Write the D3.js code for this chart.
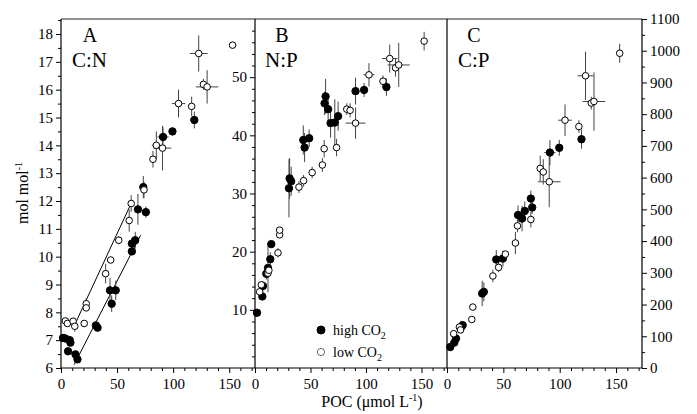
<!DOCTYPE html>
<html><head><meta charset="utf-8">
<script src="https://cdn.jsdelivr.net/npm/d3@7"></script>
<style>body{margin:0;background:#fff}svg{display:block}</style>
</head><body><svg id="c" width="697" height="414"></svg>
<script>
// ---- tick labels ----
const pocTicks = [0, 50, 100, 150];
const cnTicks = [6, 7, 8, 9, 10, 11, 12, 13, 14, 15, 16, 17, 18];
const npTicks = [10, 20, 30, 40, 50];
const cpTicks = [0, 100, 200, 300, 400, 500, 600, 700, 800, 900, 1000, 1100];

// ---- data: [POC, ratio, POC error, ratio error] ----
const cnHigh = [[1.8,7.08,0,0.1],[3.9,7.06,0,0.1],[7.8,7.0,0,0.1],[8.4,6.91,0,0.1],[6.3,6.6,0,0.05],[12.9,6.49,0,0.15],[14.7,6.31,0,0.1],[31.1,7.53,0,0.15],[32.6,7.45,0,0.1],[43.7,8.79,0,0.45],[48.8,8.79,0,0.35],[45.2,8.31,0,0.3],[63.2,10.19,0,0.15],[63.2,10.47,0,0.2],[66.2,10.59,0,0.3],[68.6,11.70,0,0.55],[75.7,11.6,0,0.2],[73.4,12.5,0,0.4],[91,14.3,5,0.35],[99.4,14.5,0,0.15],[118.9,14.91,0,0.3]];
const cnLow = [[3.9,7.69,0,0.05],[5.7,7.6,0,0.05],[10.8,7.68,0,0.05],[12.3,7.5,0,0.2],[20.7,7.6,0,0.1],[22.5,8.31,0,0.2],[22.5,8.16,0,0.1],[39.8,9.39,0,0.35],[44.3,9.88,0,0.1],[51.5,10.59,0,0.15],[60.8,11.3,0,0.4],[62.6,11.91,0,0.3],[74,12.4,0,0.3],[82,13.5,0,0.3],[85,14.0,4,0.5],[90.5,13.9,8,0.8],[104.8,15.5,6,0.5],[116.5,15.4,0,0.35],[122.8,17.3,8,0.65],[127,16.19,0,0.2],[130.3,16.1,10,0.6],[153,17.6,0,0]];
const cnFitHigh = [[11.7,6.12],[71,10.77]];
const cnFitLow = [[10.8,7.43],[63.8,12.02]];

const npHigh = [[1.8,9.5,0,0.3],[6.6,12.3,0,0.5],[7.2,14.1,0,0.8],[10.2,16.2,0,1],[11.7,17.2,0,4.2],[13.8,18.7,0,1.2],[14.7,21.3,0,0.6],[31.2,32.6,0,3.5],[32.6,32.1,0,2.5],[30.6,30.9,0,5],[43.5,39.2,0,2.5],[48.8,39.5,0,1.5],[44.7,37.9,0,2.5],[62.7,45.5,0,2],[63.6,46.7,0,3],[65.9,44.5,0,2.5],[68.1,42.1,0,2.5],[71.9,42.2,0,4],[74.9,43.3,0,2.5],[90.6,47.6,0,2.3],[98.3,47.8,0,1.2],[118.4,48.3,0,1.5]];
const npLow = [[4.2,13.1,0,0.5],[5.7,14.3,0,0.5],[11.7,16.3,0,0.8],[12.5,16.8,0,0.6],[20.7,19.8,0,0.8],[22.2,22.9,0,0.5],[22.2,23.7,0,0.5],[39.6,31.1,0,1],[43.8,32.2,0,1],[51.5,33.6,0,1],[60.7,34.9,3,1.2],[62.3,37.7,0,1.5],[73.5,37.9,0,1.5],[82.7,44.5,0,1],[85.7,44.3,0,1.2],[90.6,42.1,9,2.7],[102.7,50.4,5,2],[115.3,49.3,0,1],[121.4,53.2,7,2.4],[126.6,51.6,0,1.5],[129.5,52.1,10,3.8],[152.4,56.2,0,1.6]];

const cpHigh = [[2.9,66,0,8],[6.5,80,0,10],[8,93,0,15],[12.5,129,0,20],[13.9,135,0,10],[31.2,235,0,40],[32.7,240,0,30],[43.7,342,0,30],[49.6,345,0,25],[63,482,0,30],[66.6,471,0,40],[69,495,0,30],[74.4,534,0,25],[75.6,506,0,20],[91.3,679,5,40],[99.6,694,0,25],[119.3,721,0,30]];
const cpLow = [[5.9,108,0,10],[11,129,0,10],[12,120,0,8],[22,153,0,8],[22.9,192,0,10],[40.7,290,0,20],[45.8,317,0,15],[51.8,359,0,10],[60.7,394,3,35],[62.5,448,0,20],[74.4,468,0,25],[82.7,629,0,40],[85.4,618,0,40],[90.7,587,10,80],[104.7,781,6,50],[117,761,0,20],[122.9,921,7,76],[128,835,0,20],[130.4,840,10,92],[153.2,992,0,30]];

// ---- layout ----
const svg = d3.select('#c');
const FONT = '"Liberation Serif", "Times New Roman", serif';
const TOP = 19, BOT = 368;
const bounds = [[61, 255], [255, 447], [447, 642]];
const xs = bounds.map(b => d3.scaleLinear([0, 173], b));
const yA = d3.scaleLinear([6, 18], [BOT, 34]);
const yB = d3.scaleLinear([0, 60], [BOT, TOP]);
const yC = d3.scaleLinear([0, 1100], [BOT, TOP]);
const fmt = d3.format('d');

function styleAxis(g) {
  g.attr('font-family', FONT);
  g.selectAll('text').attr('font-family', FONT).attr('font-size', 15).attr('fill', '#000');
  g.selectAll('line').attr('stroke', '#000');
  g.select('.domain').remove();
}
function vline(x, y1, y2) {
  svg.append('line').attr('x1', x).attr('x2', x).attr('y1', y1).attr('y2', y2).attr('stroke', '#000').attr('stroke-width', 1.2);
}

// frame
svg.append('line').attr('x1', 61).attr('x2', 642).attr('y1', TOP).attr('y2', TOP).attr('stroke', '#222').attr('stroke-width', 1);
svg.append('line').attr('x1', 61).attr('x2', 642).attr('y1', BOT).attr('y2', BOT).attr('stroke', '#000').attr('stroke-width', 1.2);
[61, 255, 447, 642].forEach(x => vline(x, TOP, BOT));

// bottom axes
xs.forEach(x => {
  svg.append('g').attr('transform', `translate(0,${BOT})`)
    .call(d3.axisBottom(x).tickValues(pocTicks).tickFormat(fmt).tickSize(5).tickSizeOuter(0).tickPadding(5)).call(styleAxis);
  svg.append('g').attr('transform', `translate(0,${BOT})`)
    .call(d3.axisBottom(x).tickValues(d3.range(10, 171, 10).filter(v => v % 50)).tickSize(3).tickFormat('')).call(styleAxis);
});

// A left axis
svg.append('g').attr('transform', 'translate(61,0)')
  .call(d3.axisLeft(yA).tickValues(cnTicks).tickFormat(fmt).tickSize(5).tickPadding(3)).call(styleAxis);
svg.append('g').attr('transform', 'translate(61,0)')
  .call(d3.axisLeft(yA).tickValues(d3.range(6.5, 18.6, 1)).tickSize(3).tickFormat('')).call(styleAxis);

// B left axis
svg.append('g').attr('transform', 'translate(255,0)')
  .call(d3.axisLeft(yB).tickValues(npTicks).tickFormat(fmt).tickSize(5).tickPadding(3)).call(styleAxis);
svg.append('g').attr('transform', 'translate(255,0)')
  .call(d3.axisLeft(yB).tickValues(d3.range(2, 60, 2).filter(v => v % 10)).tickSize(3).tickFormat('')).call(styleAxis);

// C right axis
svg.append('g').attr('transform', 'translate(642,0)')
  .call(d3.axisRight(yC).tickValues(cpTicks).tickFormat(fmt).tickSize(5).tickPadding(3)).call(styleAxis);
svg.append('g').attr('transform', 'translate(642,0)')
  .call(d3.axisRight(yC).tickValues(d3.range(50, 1100, 100)).tickSize(3).tickFormat('')).call(styleAxis);

// fit lines (panel A)
const lineA = d3.line().x(d => xs[0](d[0])).y(d => yA(d[1]));
[cnFitHigh, cnFitLow].forEach(f => svg.append('path').attr('d', lineA(f)).attr('fill', 'none').attr('stroke', '#000').attr('stroke-width', 1));

// series
function errors(data, x, y) {
  const g = svg.append('g').attr('stroke', '#444').attr('stroke-width', 1);
  data.forEach(d => {
    if (d[3] > 0) g.append('line').attr('x1', x(d[0])).attr('x2', x(d[0])).attr('y1', y(d[1] - d[3])).attr('y2', y(d[1] + d[3]));
    if (d[2] > 0) g.append('line').attr('y1', y(d[1])).attr('y2', y(d[1])).attr('x1', x(d[0] - d[2])).attr('x2', x(d[0] + d[2]));
  });
}
function dots(data, x, y, filled) {
  svg.append('g').selectAll('circle').data(data).join('circle')
    .attr('cx', d => x(d[0])).attr('cy', d => y(d[1])).attr('r', filled ? 3.7 : 3.3)
    .attr('fill', filled ? '#000' : '#fff').attr('stroke', '#000').attr('stroke-width', 1);
}
const sets = [[cnHigh, cnLow, xs[0], yA], [npHigh, npLow, xs[1], yB], [cpHigh, cpLow, xs[2], yC]];
sets.forEach(([h, l, x, y]) => { errors(h, x, y); errors(l, x, y); });
sets.forEach(([h, l, x, y]) => { dots(h, x, y, true); dots(l, x, y, false); });

// panel labels
const labels = [['A', 'C:N', 90, 72], ['B', 'N:P', 282, 265], ['C', 'C:P', 474, 458]];
labels.forEach(([L, r, cx, lx]) => {
  svg.append('text').attr('x', cx).attr('y', 42).attr('text-anchor', 'middle').attr('font-family', FONT).attr('font-size', 20).text(L);
  svg.append('text').attr('x', lx).attr('y', 67).attr('font-family', FONT).attr('font-size', 21).text(r);
});

// axis titles
const yt = svg.append('text').attr('transform', 'translate(28,193) rotate(-90)').attr('text-anchor', 'middle')
  .attr('font-family', FONT).attr('font-size', 16);
yt.append('tspan').text('mol mol');
yt.append('tspan').attr('dy', -6).attr('font-size', 10).text('-1');

const xt = svg.append('text').attr('x', 372).attr('y', 407).attr('text-anchor', 'middle')
  .attr('font-family', FONT).attr('font-size', 16);
xt.append('tspan').text('POC (\u03bcmol L');
xt.append('tspan').attr('dy', -6).attr('font-size', 10).text('-1');
xt.append('tspan').attr('dy', 6).text(')');

// legend
const leg = [['high CO', true, 330], ['low CO', false, 352]];
leg.forEach(([t, f, y]) => {
  svg.append('circle').attr('cx', 321).attr('cy', y).attr('r', f ? 4 : 3.6).attr('fill', f ? '#000' : '#fff').attr('stroke', f ? '#000' : '#666');
  const tx = svg.append('text').attr('x', 333).attr('y', y + 5).attr('font-family', FONT).attr('font-size', 14);
  tx.append('tspan').text(t);
  tx.append('tspan').attr('dy', 4).attr('font-size', 10).text('2');
});
</script></body></html>
